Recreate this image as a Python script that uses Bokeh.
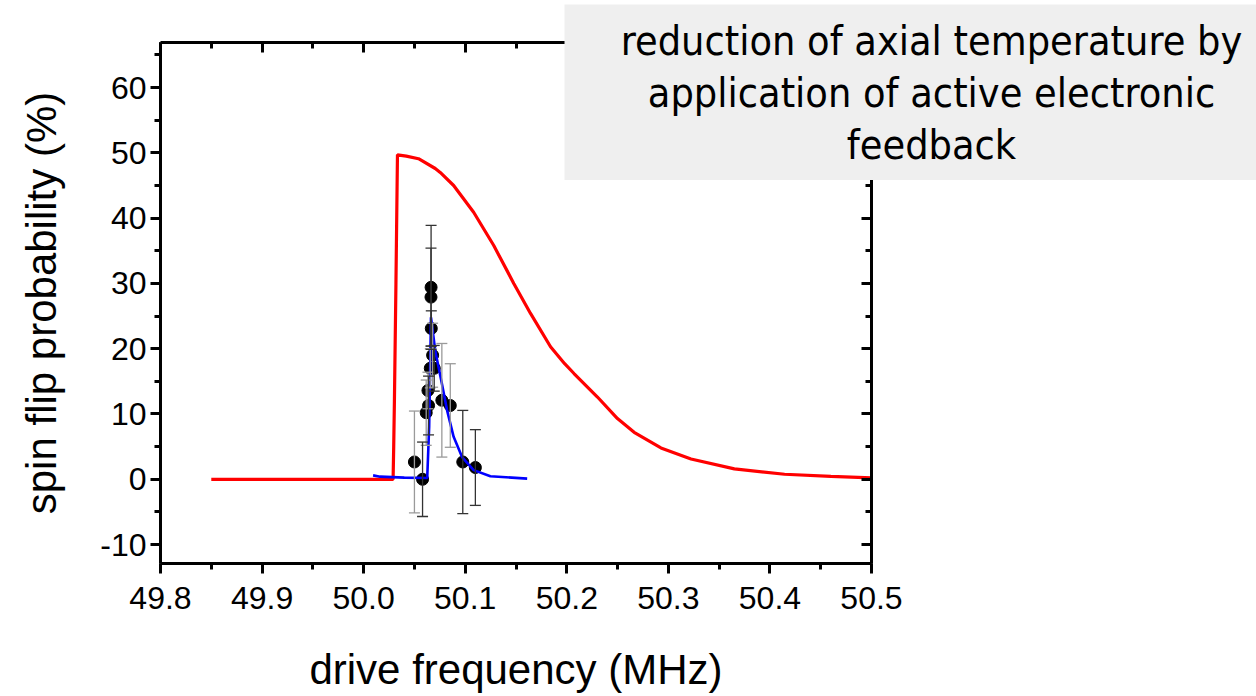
from bokeh.plotting import figure
from bokeh.models import (Range1d, LinearAxis, SingleIntervalTicker, NumeralTickFormatter,
                          Label, Whisker, ColumnDataSource, TeeHead)
from bokeh.embed import file_html
from bokeh.resources import INLINE

# ---- data ----
red_freq = [49.85, 49.95, 50.029, 50.0296, 50.0303, 50.0318, 50.0333, 50.042, 50.054,
            50.0705, 50.0754, 50.0886, 50.1083, 50.1281, 50.1478, 50.1643, 50.1840,
            50.1979, 50.2071, 50.2302, 50.2499, 50.2663, 50.2927, 50.3223, 50.365,
            50.4144, 50.46, 50.5]
red_prob = [0, 0, 0, 5, 12, 30, 49.7, 49.5, 49.1,
            47.6, 47.0, 45.0, 40.9, 35.8, 30.0, 25.4, 20.3,
            17.7, 16.2, 12.6, 9.3, 7.2, 4.8, 3.1, 1.6,
            0.77, 0.45, 0.2]

blue_freq = [50.0093, 50.0162, 50.04, 50.0626, 50.0645, 50.0663, 50.0705, 50.0771,
             50.0821, 50.0886, 50.0969, 50.1083, 50.1248, 50.161]
blue_prob = [0.6, 0.4, 0.25, 0.2, 8, 24.8, 19.7, 14.6,
             10.6, 6.5, 3.4, 1.4, 0.46, 0.1]

# measured points, group with gray error bars
gray_freq = [50.050, 50.0679, 50.0656, 50.0633, 50.0616, 50.077, 50.0853]
gray_prob = [2.65, 19.0, 17.0, 13.6, 10.2, 12.1, 11.3]
gray_err = [7.8, 4.9, 3.0, 2.8, 5.0, 8.7, 6.4]

# measured points, group with dark error bars
dark_freq = [50.058, 50.0664, 50.0663, 50.0666, 50.0695, 50.0639, 50.0976, 50.110]
dark_prob = [0.0, 29.4, 27.9, 23.1, 17.0, 11.3, 2.65, 1.8]
dark_err = [5.7, 9.5, 7.5, 2.7, 3.5, 4.5, 7.9, 5.8]

x_tick_fmt = "0.0"
y_tick_fmt = "0"
note_lines = ["reduction of axial temperature by",
              "application of active electronic",
              "feedback"]

# ---- main figure ----
p = figure(width=1256, height=696, output_backend="svg", toolbar_location=None,
           x_range=Range1d(49.8, 50.5), y_range=Range1d(-12.9, 66.9),
           min_border_left=160, min_border_right=385, min_border_top=42,
           min_border_bottom=133, x_axis_location=None, y_axis_location=None)
p.outline_line_color = None
p.xgrid.visible = False
p.ygrid.visible = False
p.background_fill_color = "white"
p.border_fill_color = "white"

AX_FONT = "Liberation Sans"

def style_axis(ax, outward):
    ax.axis_line_width = 3
    ax.axis_line_color = "black"
    ax.major_tick_line_width = 3
    ax.minor_tick_line_width = 3
    ax.major_tick_line_color = "black"
    ax.minor_tick_line_color = "black"
    if outward:
        ax.major_tick_out, ax.major_tick_in = 10, 0
        ax.minor_tick_out, ax.minor_tick_in = 6, 0
    else:
        ax.major_tick_out, ax.major_tick_in = 0, 10
        ax.minor_tick_out, ax.minor_tick_in = 0, 6
    ax.major_label_text_font = AX_FONT
    ax.major_label_text_font_size = "32px"
    ax.major_label_text_color = "black"
    ax.axis_label_text_font = AX_FONT
    ax.axis_label_text_font_size = "42px"
    ax.axis_label_text_font_style = "normal"
    ax.axis_label_text_color = "black"

def xt():
    return SingleIntervalTicker(interval=0.1, num_minor_ticks=2)

def yt():
    return SingleIntervalTicker(interval=10, num_minor_ticks=2)

xb = LinearAxis(ticker=xt(), formatter=NumeralTickFormatter(format=x_tick_fmt),
                axis_label="drive frequency (MHz)")
style_axis(xb, True)
xb.major_label_standoff = 13
xb.axis_label_standoff = 34
p.add_layout(xb, "below")

yl = LinearAxis(ticker=yt(), formatter=NumeralTickFormatter(format=y_tick_fmt),
                axis_label="spin flip probability (%)")
style_axis(yl, True)
yl.major_label_standoff = 4
yl.axis_label_standoff = 32
p.add_layout(yl, "left")

xa = LinearAxis(ticker=xt(), formatter=NumeralTickFormatter(format=x_tick_fmt))
style_axis(xa, False)
xa.major_label_text_font_size = "0px"
xa.major_label_text_color = None
p.add_layout(xa, "above")

yr = LinearAxis(ticker=yt())
style_axis(yr, False)
yr.major_label_text_font_size = "0px"
yr.major_label_text_color = None
p.add_layout(yr, "right")

# ---- data glyphs ----
p.line(red_freq, red_prob, line_color="#ff0000", line_width=3.2)

gsrc = ColumnDataSource(dict(x=gray_freq, y=gray_prob,
                             lo=[a - b for a, b in zip(gray_prob, gray_err)],
                             hi=[a + b for a, b in zip(gray_prob, gray_err)]))
dsrc = ColumnDataSource(dict(x=dark_freq, y=dark_prob,
                             lo=[a - b for a, b in zip(dark_prob, dark_err)],
                             hi=[a + b for a, b in zip(dark_prob, dark_err)]))
for src, col in ((gsrc, "#9a9a9a"), (dsrc, "#333333")):
    w = Whisker(source=src, base="x", upper="hi", lower="lo", dimension="height",
                line_color=col, line_width=1.3,
                upper_head=TeeHead(size=11, line_color=col, line_width=1.3),
                lower_head=TeeHead(size=11, line_color=col, line_width=1.3))
    w.level = "glyph"
    p.add_layout(w)

p.scatter(gray_freq, gray_prob, size=12, color="black")
p.scatter(dark_freq, dark_prob, size=12, color="black")

p.line(blue_freq, blue_prob, line_color="#0000ff", line_width=2.6)

# ---- note box (separate small figure laid over the top right) ----
BOX_W, BOX_H = 692, 176
note = figure(width=BOX_W, height=BOX_H, output_backend="svg", toolbar_location=None,
              x_range=Range1d(0, BOX_W), y_range=Range1d(BOX_H, 0),
              min_border=0, x_axis_location=None, y_axis_location=None,
              styles={"position": "absolute", "left": "564px", "top": "4px",
                      "z-index": "10"})
note.outline_line_color = None
note.xgrid.visible = False
note.ygrid.visible = False
note.background_fill_color = "#efefef"
note.border_fill_color = "#efefef"

for i, line in enumerate(note_lines):
    note.add_layout(Label(x=367, y=36 + 52 * i, text=line, text_align="center",
                          text_baseline="alphabetic",
                          text_font="DejaVu Sans Condensed", text_font_size="41px",
                          text_color="black"))

open("out.html", "w").write(file_html([p, note], INLINE))
